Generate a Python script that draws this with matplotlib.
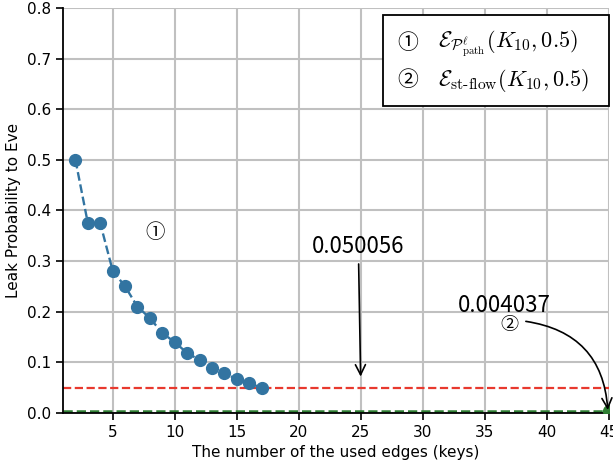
import matplotlib
matplotlib.use("Agg")
import matplotlib.pyplot as plt
from matplotlib.patches import Rectangle

edges = [2, 3, 4, 5, 6, 7, 8, 9, 10, 11, 12, 13, 14, 15, 16, 17]
leak_path = [0.5, 0.375, 0.375, 0.28125, 0.25, 0.21, 0.1875, 0.158, 0.14,
             0.1185, 0.105, 0.0885, 0.079, 0.0665, 0.0586, 0.050056]
path_min = 0.050056
flow_edges = 45
flow_value = 0.004037
xticks = [5, 10, 15, 20, 25, 30, 35, 40, 45]
yticks = [0.0, 0.1, 0.2, 0.3, 0.4, 0.5, 0.6, 0.7, 0.8]

plt.rcParams['mathtext.fontset'] = 'cm'
sym_fam = ['Noto Sans CJK JP', 'DejaVu Sans']

fig = plt.figure(figsize=(6.13, 4.66), dpi=100)
ax = fig.add_axes([0.1028, 0.1137, 0.8907, 0.8693])

ax.grid(True, color='#c0c0c0', linewidth=1.5, zorder=0)
ax.set_axisbelow(True)

ax.axhline(path_min, color='#e8392e', linestyle='--', linewidth=1.6, zorder=2)
ax.axhline(flow_value, color='#2e7d32', linestyle='--', linewidth=1.8, zorder=2)
ax.plot([flow_edges], [flow_value], 'o', color='#2e7d32', markersize=8.5, zorder=3)
ax.plot(edges, leak_path, 'o--', color='#3274a1', markersize=8.5, linewidth=1.7, zorder=4)

ax.set_xlim(1, 45)
ax.set_ylim(0, 0.8)
ax.set_xticks(xticks)
ax.set_yticks(yticks)
ax.tick_params(axis='both', labelsize=11, length=5, width=1.2, color='black')
for s in ['top', 'right']:
    ax.spines[s].set_visible(False)
for s in ['left', 'bottom']:
    ax.spines[s].set_color('black')
    ax.spines[s].set_linewidth(1.3)

ax.set_xlabel('The number of the used edges (keys)', fontsize=11)
ax.set_ylabel('Leak Probability to Eve', fontsize=11)

# annotations
ax.annotate('0.050056', xy=(25, path_min), xytext=(24.8, 0.328),
            fontsize=16, ha='center', va='center', family=['Noto Sans CJK JP', 'DejaVu Sans'],
            arrowprops=dict(arrowstyle='->', color='black', lw=1.2,
                            shrinkA=2, shrinkB=8, mutation_scale=18))
ax.text(36.6, 0.213, '0.004037', fontsize=16, ha='center', va='center',
        family=['Noto Sans CJK JP', 'DejaVu Sans'])
ax.text(37.0, 0.173, '②', fontsize=13, ha='center', va='center', family=sym_fam)
ax.annotate('', xy=(44.9, 0.006), xytext=(38.3, 0.181),
            arrowprops=dict(arrowstyle='->', color='black', lw=1.2,
                            connectionstyle='arc3,rad=-0.4', mutation_scale=18,
                            shrinkA=0, shrinkB=0))
ax.text(8.4, 0.357, '①', fontsize=14, ha='center', va='center', family=sym_fam)

# legend-like box
box = Rectangle((0.625, 0.773), 0.368, 0.195, transform=fig.transFigure,
                facecolor='white', edgecolor='black', linewidth=1.3, zorder=10)
fig.patches.append(box)
fig.text(0.665, 0.907, '①', fontsize=15, ha='center', va='center', family=sym_fam, zorder=11)
fig.text(0.665, 0.828, '②', fontsize=15, ha='center', va='center', family=sym_fam, zorder=11)
fig.text(0.715, 0.907, r'$\mathcal{E}_{\mathcal{P}^{\ell}_{\mathrm{path}}}(K_{10},0.5)$',
         fontsize=16, ha='left', va='center', zorder=11)
fig.text(0.715, 0.828, r'$\mathcal{E}_{\mathrm{st\text{-}flow}}(K_{10},0.5)$',
         fontsize=16, ha='left', va='center', zorder=11)

fig.savefig('out.png', dpi=100)
